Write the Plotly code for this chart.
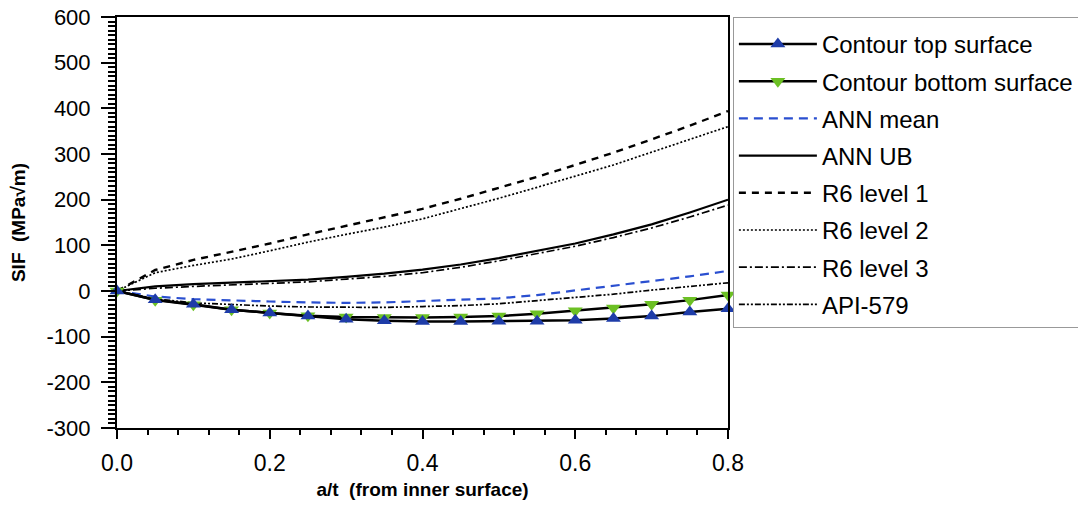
import plotly.graph_objects as go

at = [0.0, 0.05, 0.1, 0.15, 0.2, 0.25, 0.3, 0.35, 0.4, 0.45, 0.5, 0.55, 0.6, 0.65, 0.7, 0.75, 0.8]

contour_top = [0, -19, -29, -41, -48, -55, -62, -65, -67, -67, -66, -66, -64, -60, -55, -46, -39]
contour_bottom = [0, -20, -30, -41, -48, -54, -57, -58, -58, -57, -55, -50, -43, -37, -29, -20, -9]
ann_mean = [0, -12, -18, -21, -23, -25, -26, -25, -22, -19, -16, -9, 1, 11, 21, 32, 44]
ann_ub = [0, 10, 15, 18, 21, 25, 31, 38, 47, 58, 72, 88, 104, 124, 146, 172, 200]
r6_l1 = [0, 46, 68, 86, 104, 124, 143, 161, 180, 202, 226, 250, 276, 303, 332, 362, 394]
r6_l2 = [0, 40, 56, 70, 88, 107, 124, 140, 158, 180, 203, 227, 251, 276, 304, 332, 360]
r6_l3 = [0, 6, 10, 13, 16, 20, 26, 32, 40, 52, 66, 82, 98, 117, 138, 162, 188]
api579 = [0, -17, -26, -30, -33, -35, -36, -36, -34, -32, -28, -21, -13, -7, 2, 10, 18]

x_ticks = [0.0, 0.2, 0.4, 0.6, 0.8]
x_ticklabels = ["0.0", "0.2", "0.4", "0.6", "0.8"]
y_ticks = [-300, -200, -100, 0, 100, 200, 300, 400, 500, 600]
y_ticklabels = ["-300", "-200", "-100", "0", "100", "200", "300", "400", "500", "600"]

BLUE = "#1e3ca8"
GREEN = "#6cc024"
FONT = "Liberation Sans, Arial, sans-serif"

fig = go.Figure()

def line_trace(name, y, color, dash, width, rank):
    return go.Scatter(x=at, y=y, name=name, mode="lines",
                      line=dict(color=color, dash=dash, width=width),
                      legendrank=rank, legendgroup=name, cliponaxis=False)

fig.add_trace(line_trace("ANN mean", ann_mean, "#2a4fd0", "9px,6px", 2.2, 3))
fig.add_trace(line_trace("ANN UB", ann_ub, "black", "solid", 2.2, 4))
fig.add_trace(line_trace("R6 level 1", r6_l1, "black", "7px,6px", 2.4, 5))
fig.add_trace(line_trace("R6 level 2", r6_l2, "black", "2px,2px", 1.7, 6))
fig.add_trace(line_trace("R6 level 3", r6_l3, "black", "8px,3px,2px,3px", 1.7, 7))
fig.add_trace(line_trace("API-579", api579, "black", "6px,2px,2px,2px,2px,2px", 1.7, 8))

fig.add_trace(go.Scatter(x=at, y=contour_bottom, name="Contour bottom surface", mode="lines+markers",
                         line=dict(color="black", width=2.5),
                         marker=dict(symbol="triangle-down", size=13, color=GREEN),
                         legendrank=2, legendgroup="cb", cliponaxis=False))
fig.add_trace(go.Scatter(x=at, y=contour_top, name="Contour top surface", mode="lines+markers",
                         line=dict(color="black", width=2.5),
                         marker=dict(symbol="triangle-up", size=13, color=BLUE),
                         legendrank=1, legendgroup="ct", cliponaxis=False))

fig.update_layout(
    width=1070, height=492,
    margin=dict(l=109, r=350, t=9, b=72, autoexpand=False),
    paper_bgcolor="white", plot_bgcolor="white",
    font=dict(family=FONT, color="black", size=23),
    legend=dict(x=1.008, y=1.0, xanchor="left", yanchor="top",
                bordercolor="#999999", borderwidth=1, bgcolor="white",
                font=dict(size=24, family=FONT), tracegroupgap=3,
                traceorder="grouped", itemwidth=78,
                title=dict(text=" ", font=dict(size=3))),
    showlegend=True,
)

fig.update_xaxes(range=[0, 0.8], tickvals=x_ticks, ticktext=x_ticklabels,
                 showgrid=False, zeroline=False, showline=True, linecolor="black", linewidth=2,
                 mirror=True, ticks="outside", ticklen=9, tickwidth=2, tickcolor="black",
                 minor=dict(dtick=0.04, ticks="outside", ticklen=5, tickwidth=1.5, tickcolor="black"),
                 tickfont=dict(size=23), automargin=False, ticklabelstandoff=4,
                 ticklabeloverflow="allow",
                 title=dict(text="<b>a/t  (from inner surface)</b>", font=dict(size=19), standoff=17))

fig.update_yaxes(range=[-300, 600], tickvals=y_ticks, ticktext=y_ticklabels,
                 showgrid=False, zeroline=False, showline=True, linecolor="black", linewidth=2,
                 mirror=True, ticks="outside", ticklen=14, tickwidth=2, tickcolor="black",
                 minor=dict(dtick=10, ticks="outside", ticklen=7, tickwidth=1.5, tickcolor="black"),
                 tickfont=dict(size=22), automargin=False, ticklabelstandoff=6,
                 ticklabeloverflow="allow",
                 title=dict(text="<b>SIF  (MPa√m)</b>", font=dict(size=19), standoff=20))

fig.write_html("out.html")
